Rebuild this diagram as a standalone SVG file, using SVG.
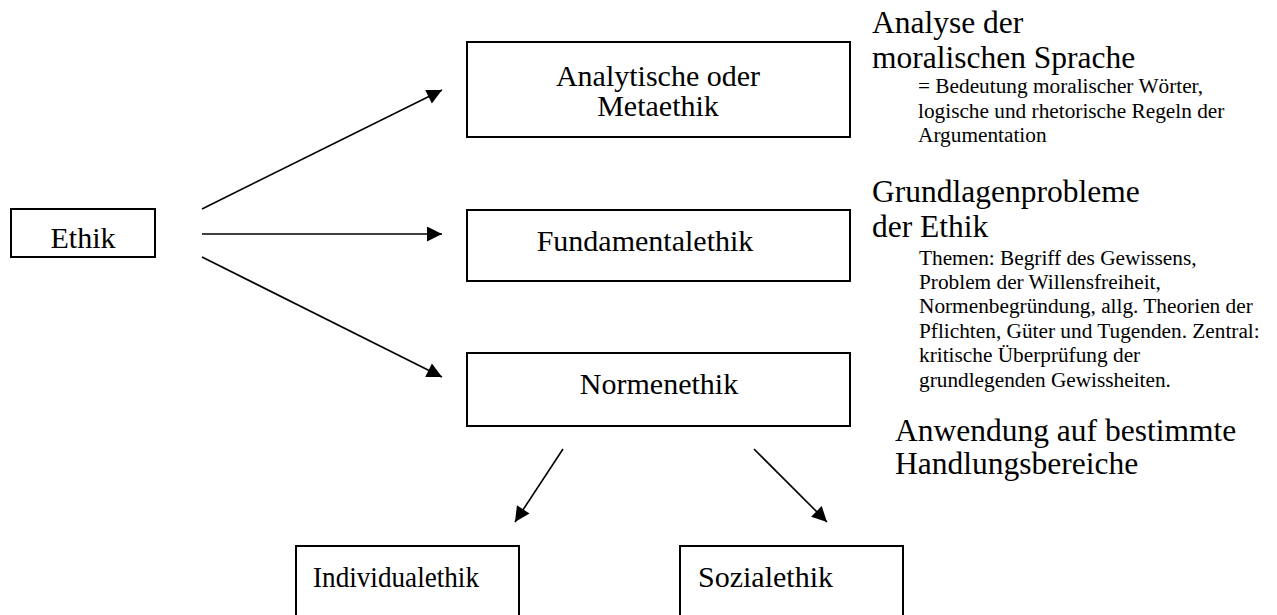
<svg xmlns="http://www.w3.org/2000/svg" width="1277" height="615" viewBox="0 0 1277 615">
  <style>
    .box { fill: #fff; stroke: #000; stroke-width: 2; }
    .lbl { font-family: "Liberation Serif", "Times New Roman", serif; font-size: 30px; fill: #000; }
    .head { font-family: "Liberation Serif", "Times New Roman", serif; font-size: 31.5px; fill: #000; }
    .note { font-family: "Liberation Serif", "Times New Roman", serif; font-size: 21.3px; fill: #000; }
    .conn { fill: none; stroke: #000; stroke-width: 1.6; marker-end: url(#arrow); }
  </style>
  <defs>
    <marker id="arrow" viewBox="0 0 10 10" refX="10" refY="5" markerUnits="userSpaceOnUse" markerWidth="18" markerHeight="15" orient="auto">
      <path d="M0,0 L10,5 L0,10 Z" fill="#000"/>
    </marker>
    <clipPath id="ethikClip">
      <rect x="11" y="209" width="144" height="39"/>
    </clipPath>
  </defs>
  <rect width="1277" height="615" fill="#fff"/>

  <!-- connectors -->
  <g id="connectors">
    <path class="conn" d="M202,209 L442,90"/>
    <path class="conn" d="M202,234 L442,234"/>
    <path class="conn" d="M202,257 L442,377"/>
    <path class="conn" d="M563,449 L515,522"/>
    <path class="conn" d="M754,449 L827,522"/>
  </g>

  <!-- nodes -->
  <g id="ethik">
    <rect class="box" x="11" y="209" width="144" height="48"/>
    <text class="lbl" x="83" y="248" text-anchor="middle" clip-path="url(#ethikClip)">Ethik</text>
  </g>
  <g id="metaethik">
    <rect class="box" x="467" y="42" width="383" height="95"/>
    <text class="lbl" x="658" y="86" text-anchor="middle">Analytische oder</text>
    <text class="lbl" x="658" y="116" text-anchor="middle">Metaethik</text>
  </g>
  <g id="fundamentalethik">
    <rect class="box" x="467" y="210" width="383" height="71"/>
    <text class="lbl" x="645" y="251" text-anchor="middle">Fundamentalethik</text>
  </g>
  <g id="normenethik">
    <rect class="box" x="467" y="353" width="383" height="73"/>
    <text class="lbl" x="659" y="394" text-anchor="middle">Normenethik</text>
  </g>
  <g id="individualethik">
    <rect class="box" x="296" y="546" width="223" height="90"/>
    <text class="lbl" x="313" y="587" textLength="166" lengthAdjust="spacingAndGlyphs">Individualethik</text>
  </g>
  <g id="sozialethik">
    <rect class="box" x="680" y="546" width="223" height="90"/>
    <text class="lbl" x="698" y="587">Sozialethik</text>
  </g>

  <!-- descriptions -->
  <g id="desc-metaethik">
    <text class="head" x="872" y="33">Analyse der</text>
    <text class="head" x="872" y="68">moralischen Sprache</text>
    <text class="note" x="918" y="93">= Bedeutung moralischer Wörter,</text>
    <text class="note" x="918" y="118">logische und rhetorische Regeln der</text>
    <text class="note" x="918" y="142">Argumentation</text>
  </g>
  <g id="desc-fundamentalethik">
    <text class="head" x="872" y="202">Grundlagenprobleme</text>
    <text class="head" x="872" y="237">der Ethik</text>
    <text class="note" x="919" y="265">Themen: Begriff des Gewissens,</text>
    <text class="note" x="919" y="289">Problem der Willensfreiheit,</text>
    <text class="note" x="919" y="313">Normenbegründung, allg. Theorien der</text>
    <text class="note" x="919" y="338">Pflichten, Güter und Tugenden. Zentral:</text>
    <text class="note" x="919" y="362">kritische Überprüfung der</text>
    <text class="note" x="919" y="387">grundlegenden Gewissheiten.</text>
  </g>
  <g id="desc-normenethik">
    <text class="head" x="895" y="441">Anwendung auf bestimmte</text>
    <text class="head" x="895" y="474">Handlungsbereiche</text>
  </g>
</svg>
